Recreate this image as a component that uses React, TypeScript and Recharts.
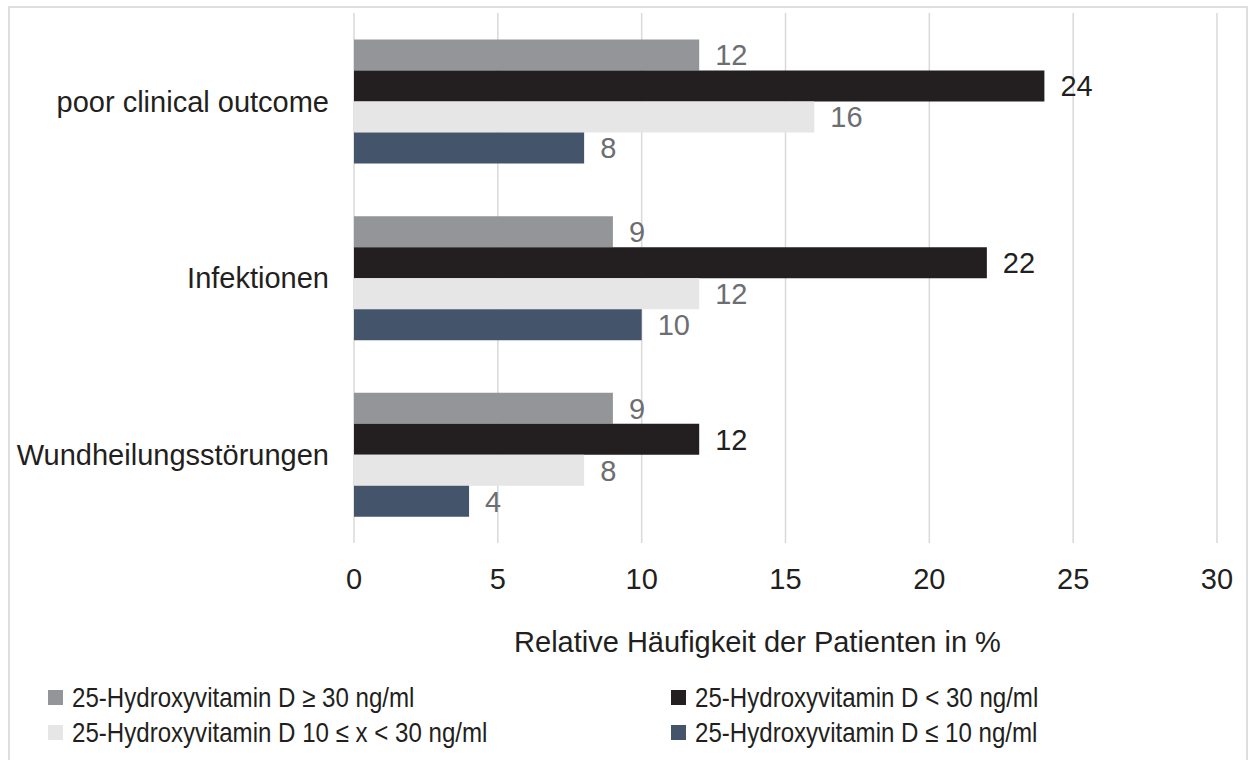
import { Bar, BarChart, CartesianGrid, LabelList, XAxis, YAxis } from "recharts"

const categories = ["poor clinical outcome", "Infektionen", "Wundheilungsstörungen"]

const seriesNames = [
  "25-Hydroxyvitamin D ≥ 30 ng/ml",
  "25-Hydroxyvitamin D < 30 ng/ml",
  "25-Hydroxyvitamin D 10 ≤ x < 30 ng/ml",
  "25-Hydroxyvitamin D ≤ 10 ng/ml",
]

const atLeast30 = [12, 9, 9]
const below30 = [24, 22, 12]
const between10and30 = [16, 12, 8]
const atMost10 = [8, 10, 4]

const xTicks = [0, 5, 10, 15, 20, 25, 30]

const FONT = "'Liberation Sans', Arial, sans-serif"
const TEXT = "#231f20"

const seriesStyle = [
  { key: "s1", fill: "#939598", label: "#6d6e71" },
  { key: "s2", fill: "#231f20", label: "#231f20" },
  { key: "s3", fill: "#e6e6e6", label: "#6d6e71" },
  { key: "s4", fill: "#44546a", label: "#6d6e71" },
]

const chartData = categories.map((name, i) => ({
  name,
  s1: atLeast30[i],
  s2: below30[i],
  s3: between10and30[i],
  s4: atMost10[i],
}))

// legend is filled column by column: series 1 and 3 left, 2 and 4 right
const legendOrder = [0, 2, 1, 3]

export default function App() {
  return (
    <div style={{ position: "absolute", left: 0, top: 0, width: 1251, height: 760, background: "#fff", overflow: "hidden" }}>
      <div
        style={{
          position: "absolute",
          left: 8,
          top: 6,
          width: 1240,
          height: 780,
          border: "2px solid #dedede",
          boxSizing: "border-box",
        }}
      />
      <div style={{ position: "absolute", left: 0, top: 0 }}>
        <BarChart
          width={1251}
          height={760}
          data={chartData}
          layout="vertical"
          margin={{ top: 13, right: 34, left: 0, bottom: 102 }}
          barCategoryGap="15%"
          barGap={0}
        >
          <CartesianGrid horizontal={false} stroke="#d9d9d9" strokeWidth={1.5} />
          <XAxis
            type="number"
            domain={[0, 30]}
            ticks={xTicks}
            axisLine={false}
            tickLine={false}
            tickSize={0}
            tickMargin={25}
            height={115}
            tick={{ fill: TEXT, fontSize: 29, fontFamily: FONT }}
            label={{
              value: "Relative Häufigkeit der Patienten in %",
              position: "insideBottom",
              offset: 6,
              dx: -28,
              fill: TEXT,
              fontSize: 29,
              fontFamily: FONT,
            }}
          />
          <YAxis
            type="category"
            dataKey="name"
            width={354}
            axisLine={false}
            tickLine={false}
            tickSize={0}
            tickMargin={25}
            tick={{ fill: TEXT, fontSize: 29, fontFamily: FONT }}
          />
          {seriesStyle.map((s, i) => (
            <Bar key={s.key} dataKey={s.key} name={seriesNames[i]} fill={s.fill} isAnimationActive={false}>
              <LabelList
                dataKey={s.key}
                position="right"
                offset={16}
                fill={s.label}
                fontSize={29}
                fontFamily={FONT}
              />
            </Bar>
          ))}
        </BarChart>
      </div>
      <div
        style={{
          position: "absolute",
          left: 48,
          top: 680,
          display: "grid",
          gridTemplateColumns: "623px 500px",
          gridAutoFlow: "column",
          gridTemplateRows: "35px 35px",
          fontFamily: FONT,
          fontSize: 28,
          color: TEXT,
        }}
      >
        {legendOrder.map((idx) => (
          <div key={idx} style={{ display: "flex", alignItems: "center", whiteSpace: "nowrap" }}>
            <span
              style={{
                display: "inline-block",
                width: 15,
                height: 15,
                background: seriesStyle[idx].fill,
                marginRight: 9,
                flexShrink: 0,
              }}
            />
            <span style={{ display: "inline-block", transform: "scaleX(0.86)", transformOrigin: "left center" }}>
              {seriesNames[idx]}
            </span>
          </div>
        ))}
      </div>
    </div>
  )
}
